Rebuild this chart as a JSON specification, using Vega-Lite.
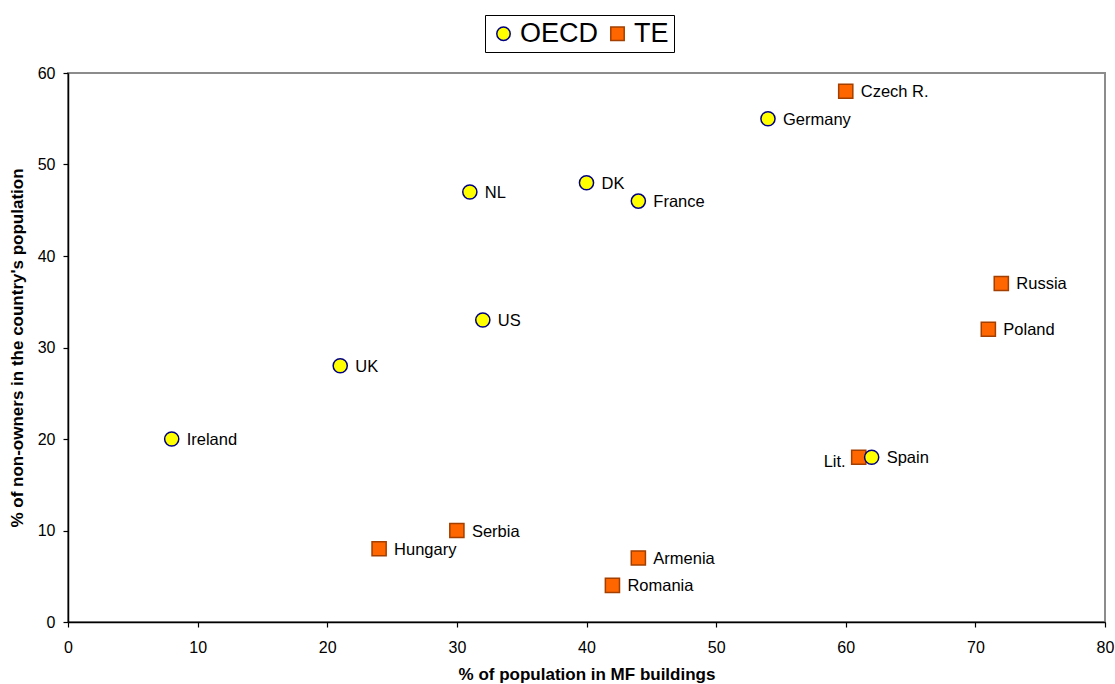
{
  "$schema": "https://vega.github.io/schema/vega-lite/v6.json",
  "autosize": {"type": "none"},
  "width": 1037,
  "height": 549,
  "padding": {"left": 68, "top": 73, "right": 10, "bottom": 62},
  "background": "white",
  "config": {
    "font": "Liberation Sans",
    "view": {"stroke": "#8c8c8c", "strokeWidth": 2},
    "axis": {
      "grid": false,
      "domainColor": "#000000",
      "domainWidth": 1.5,
      "tickColor": "#000000",
      "tickWidth": 1.2,
      "tickSize": 5,
      "labelFontSize": 16,
      "labelColor": "#000000",
      "labelFont": "Liberation Sans",
      "labelFlush": false,
      "labelOverlap": false,
      "titleFont": "Liberation Sans",
      "titleFontWeight": "bold",
      "titleColor": "#000000"
    }
  },
  "data": {
    "values": [
      {"country": "Czech R.", "group": "TE", "mf": 60, "nonowners": 58},
      {"country": "Russia", "group": "TE", "mf": 72, "nonowners": 37},
      {"country": "Poland", "group": "TE", "mf": 71, "nonowners": 32},
      {"country": "Lit.", "group": "TE", "mf": 61, "nonowners": 18},
      {"country": "Serbia", "group": "TE", "mf": 30, "nonowners": 10},
      {"country": "Hungary", "group": "TE", "mf": 24, "nonowners": 8},
      {"country": "Armenia", "group": "TE", "mf": 44, "nonowners": 7},
      {"country": "Romania", "group": "TE", "mf": 42, "nonowners": 4},
      {"country": "Ireland", "group": "OECD", "mf": 8, "nonowners": 20},
      {"country": "UK", "group": "OECD", "mf": 21, "nonowners": 28},
      {"country": "US", "group": "OECD", "mf": 32, "nonowners": 33},
      {"country": "NL", "group": "OECD", "mf": 31, "nonowners": 47},
      {"country": "DK", "group": "OECD", "mf": 40, "nonowners": 48},
      {"country": "France", "group": "OECD", "mf": 44, "nonowners": 46},
      {"country": "Germany", "group": "OECD", "mf": 54, "nonowners": 55},
      {"country": "Spain", "group": "OECD", "mf": 62, "nonowners": 18}
    ]
  },
  "encoding": {
    "x": {
      "field": "mf", "type": "quantitative",
      "scale": {"domain": [0, 80], "nice": false, "zero": true},
      "axis": {"values": [0, 10, 20, 30, 40, 50, 60, 70, 80], "labelPadding": 12, "titlePadding": 11, "titleFontSize": 17, "title": "% of population in MF buildings"}
    },
    "y": {
      "field": "nonowners", "type": "quantitative",
      "scale": {"domain": [0, 60], "nice": false},
      "axis": {"values": [0, 10, 20, 30, 40, 50, 60], "labelPadding": 8, "titlePadding": 11, "titleFontSize": 17, "title": "% of non-owners in the country's population"}
    }
  },
  "layer": [
    {
      "mark": {"type": "point", "filled": true, "opacity": 1, "strokeWidth": 1.5, "size": 200},
      "encoding": {
        "fill": {
          "field": "group", "type": "nominal",
          "scale": {"domain": ["OECD", "TE"], "range": ["#FFFF00", "#FF6600"]},
          "legend": {
            "title": null,
            "orient": "none",
            "legendX": 417,
            "legendY": -58,
            "direction": "horizontal",
            "labelFontSize": 27,
            "labelFont": "Liberation Sans",
            "labelColor": "#000000",
            "labelOffset": 3,
            "columnPadding": 5,
            "padding": 5,
            "strokeColor": "#000000",
            "fillColor": "#ffffff",
            "symbolSize": 180,
            "symbolStrokeWidth": 1.5,
            "symbolOpacity": 1
          }
        },
        "stroke": {
          "field": "group", "type": "nominal",
          "scale": {"domain": ["OECD", "TE"], "range": ["#000080", "#A33F00"]}
        },
        "shape": {
          "field": "group", "type": "nominal",
          "scale": {"domain": ["OECD", "TE"], "range": ["circle", "square"]}
        }
      }
    },
    {
      "transform": [{"filter": "datum.country !== 'Lit.'"}],
      "mark": {"type": "text", "align": "left", "baseline": "middle", "dx": 15, "dy": 1, "fontSize": 16.5, "font": "Liberation Sans", "color": "#000000"},
      "encoding": {"text": {"field": "country"}}
    },
    {
      "transform": [{"filter": "datum.country === 'Lit.'"}],
      "mark": {"type": "text", "align": "right", "baseline": "middle", "dx": -13, "dy": 5, "fontSize": 16.5, "font": "Liberation Sans", "color": "#000000"},
      "encoding": {"text": {"field": "country"}}
    }
  ]
}
